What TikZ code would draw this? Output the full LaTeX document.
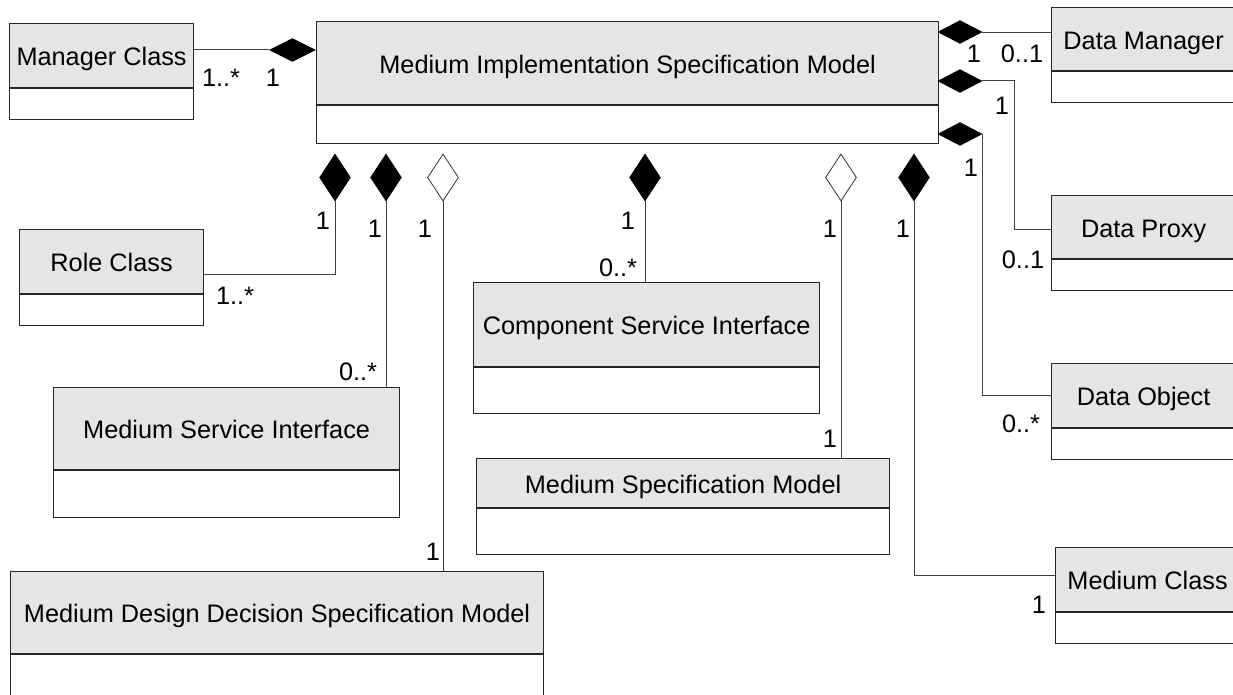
\documentclass[tikz,border=0pt]{standalone}
\usepackage{fontspec}
\setmainfont{Liberation Sans}
\usetikzlibrary{shapes.geometric}
\newcommand\umlclass[7]{%
  \node[hdr, minimum width=#4pt, minimum height=#5pt] (#1) at (#2,#3) {#7};
  \node[bdy, minimum width=#4pt, minimum height=#6pt] (#1b) at (#1.south west) {};}
\begin{document}
\begin{tikzpicture}[x=1pt,y=-1pt,
  hdr/.style={draw=black!85, line width=1.2pt, fill=black!10, inner sep=0pt, anchor=north west, text height=20pt, text depth=0pt, font=\fontsize{25.3}{30}\selectfont},
  bdy/.style={draw=black!85, line width=1.2pt, fill=white, inner sep=0pt, anchor=north west},
  fdia/.style={shape=diamond, inner sep=0pt, fill=black, draw=black, line width=0.5pt},
  hdia/.style={shape=diamond, inner sep=0pt, fill=white, draw=black!80, line width=0.8pt},
  conn/.style={draw=black!75, line width=1pt},
  lab/.style={anchor=base, inner sep=0pt, font=\fontsize{25.3}{30}\selectfont},
  vd/.style={minimum width=31pt, minimum height=47pt},
  hd/.style={minimum width=46pt, minimum height=23pt}]
\useasboundingbox (0,0) rectangle (1233,695);
\clip (0,0) rectangle (1233,695);
\fill[white] (0,0) rectangle (1233,695);

% classes
\umlclass{mgr}{9}{23}{184}{64}{31}{Manager Class}
\umlclass{main}{316}{21}{622}{83}{38}{Medium Implementation Specification Model}
\umlclass{dm}{1051}{7}{184}{63}{31}{Data Manager}
\umlclass{dp}{1051}{195}{184}{63}{31}{Data Proxy}
\umlclass{dob}{1051}{363}{184}{64}{31}{Data Object}
\umlclass{mcl}{1055}{547}{184}{64}{31}{Medium Class}
\umlclass{role}{19}{229}{184}{64}{31}{Role Class}
\umlclass{msi}{53}{387}{346}{82}{47}{Medium Service Interface}
\umlclass{csi}{473}{282}{346}{84}{46}{Component Service Interface}
\umlclass{msm}{476}{458}{413}{49}{46}{Medium Specification Model}
\umlclass{mdd}{10}{571}{533}{82}{80}{Medium Design Decision Specification Model}

% diamond positions
\coordinate (dmgc) at (292.5,50);
\coordinate (ddmc) at (960,32);
\coordinate (ddpc) at (960,81);
\coordinate (ddoc) at (960,134);
\coordinate (v1c) at (335,177.5);
\coordinate (v2c) at (386,177.5);
\coordinate (v3c) at (443,177.5);
\coordinate (v4c) at (645,177.5);
\coordinate (v5c) at (841,177.5);
\coordinate (v6c) at (914,177.5);
\coordinate (dpx) at (1014,0);
\coordinate (rj) at (0,274);
\coordinate (mj) at (0,575);
\coordinate (dmj) at (0,33);
\coordinate (dpj) at (0,229);

% diamonds as nodes
\node[fdia,hd] (dmg) at (dmgc) {};
\node[fdia,hd,minimum width=44pt] (ddm) at (ddmc) {};
\node[fdia,hd,minimum width=44pt] (ddp) at (ddpc) {};
\node[fdia,hd,minimum width=44pt] (ddo) at (ddoc) {};
\node[fdia,vd] (v1) at (v1c) {};
\node[fdia,vd] (v2) at (v2c) {};
\node[hdia,vd] (v3) at (v3c) {};
\node[fdia,vd] (v4) at (v4c) {};
\node[hdia,vd] (v5) at (v5c) {};
\node[fdia,vd] (v6) at (v6c) {};

% connectors
\draw[conn] (mgr.east |- dmg.west) -- (dmg.west);
\draw[conn] (ddm.east) -- (ddm.east |- dmj) -- (dm.west |- dmj);
\draw[conn] (ddp.east) -- (ddp.east -| dpx) |- (dp.west |- dpj);
\draw[conn] (ddo.east) |- (dob.west);
\draw[conn] (v1.south) |- (role.east |- rj);
\draw[conn] (v2.south) -- (v2.south |- msi.north);
\draw[conn] (v3.south) -- (v3.south |- mdd.north);
\draw[conn] (v4.south) -- (v4.south |- csi.north);
\draw[conn] (v5.south) -- (v5.south |- msm.north);
\draw[conn] (v6.south) |- (mcl.west |- mj);

% multiplicities
\node[lab] (l1) at (221,87) {1..*};
\node[lab] (l2) at (273,87) {1};
\node[lab] (l3) at (974,63) {1};
\node[lab] (l4) at (1022,63) {0..1};
\node[lab] (l5) at (1002,115) {1};
\node[lab] (l6) at (971,177) {1};
\node[lab] (l7) at (1023,268) {0..1};
\node[lab] (l8) at (1021,432) {0..*};
\node[lab] (l9) at (323,229) {1};
\node[lab] (l10) at (375,237) {1};
\node[lab] (l11) at (425,237) {1};
\node[lab] (l12) at (235,304) {1..*};
\node[lab] (l13) at (358,380) {0..*};
\node[lab] (l14) at (628,229) {1};
\node[lab] (l15) at (618,276) {0..*};
\node[lab] (l16) at (830,237) {1};
\node[lab] (l17) at (830,447) {1};
\node[lab] (l18) at (903,237) {1};
\node[lab] (l19) at (433,560) {1};
\node[lab] (l20) at (1039,613) {1};
\end{tikzpicture}
\end{document}
